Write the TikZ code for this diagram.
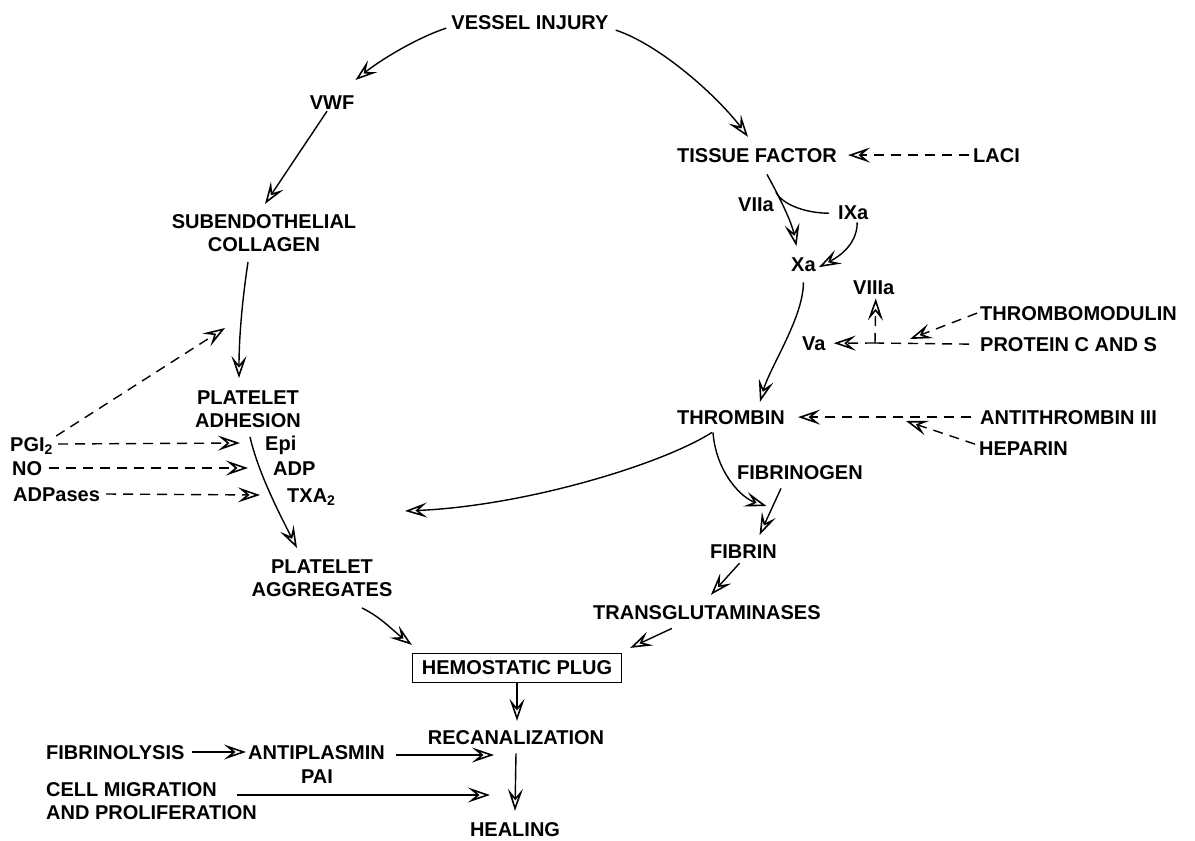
\documentclass[tikz,border=0pt]{standalone}
\usepackage{fontspec}
\setmainfont{Liberation Sans}
\usetikzlibrary{arrows.meta,calc}
\begin{document}
\begin{tikzpicture}[x=1pt,y=-1pt,
  lbl/.style={font=\fontsize{20}{23.5}\selectfont\bfseries, inner sep=1pt, align=center},
  arr/.style={line width=1.4pt, -{Stealth[open,length=22pt,width=15pt,inset=9pt,line width=1.6pt]}},
  dsh/.style={arr, dash pattern=on 10pt off 7pt},
  dline/.style={line width=1.4pt, dash pattern=on 10pt off 7pt},
  plain/.style={line width=1.4pt}]
\path[use as bounding box] (0,0) rectangle (1195,841);

% left branch
\node[lbl, anchor=base] (vi) at (530,29) {VESSEL INJURY};
\node[lbl, anchor=base] (vwf) at (332,109) {VWF};
\node[lbl] (sub) at (264,233) {SUBENDOTHELIAL\\COLLAGEN};
\node[lbl] (pad) at (248,409) {PLATELET\\ADHESION};
\node[lbl, anchor=base west] (pgi) at (9,451) {PGI\textsubscript{2}};
\node[lbl, anchor=base west] (no) at (11,475) {NO};
\node[lbl, anchor=base west] (adpases) at (12,501) {ADPases};
\node[lbl, anchor=base west] (epi) at (264,450) {Epi};
\node[lbl, anchor=base west] (adp) at (272,475) {ADP};
\node[lbl, anchor=base west] (txa) at (286,502) {TXA\textsubscript{2}};
\node[lbl] (pag) at (322,578) {PLATELET\\AGGREGATES};

% bottom
\node[lbl, draw, line width=1.2pt, minimum width=209pt, minimum height=29pt, inner sep=2pt] (plug) at (517,668) {HEMOSTATIC PLUG};
\node[lbl, anchor=base] (recan) at (516,744) {RECANALIZATION};
\node[lbl, anchor=base] (heal) at (515,836) {HEALING};
\node[lbl, anchor=base west] (fib) at (45,759) {FIBRINOLYSIS};
\node[lbl, anchor=base west] (anti) at (247,759) {ANTIPLASMIN};
\node[lbl, anchor=base] (pai) at (317,783) {PAI};
\node[lbl, align=left, anchor=north west] (cell) at (45,781) {CELL MIGRATION\\AND PROLIFERATION};

% right branch
\node[lbl, anchor=base] (tf) at (757,162) {TISSUE FACTOR};
\node[lbl, anchor=base west] (laci) at (972,162) {LACI};
\node[lbl, anchor=base west] (viia) at (737,211) {VIIa};
\node[lbl, anchor=base west] (ixa) at (837,219) {IXa};
\node[lbl, anchor=base west] (xa) at (790,271) {Xa};
\node[lbl, anchor=base west] (viiia) at (852,294) {VIIIa};
\node[lbl, anchor=base west] (va) at (801,350) {Va};
\node[lbl, anchor=base west] (tm) at (979,320) {THROMBOMODULIN};
\node[lbl, anchor=base west] (pcs) at (979,351) {PROTEIN C AND S};
\node[lbl, anchor=base] (thr) at (731,424) {THROMBIN};
\node[lbl, anchor=base west] (at3) at (979,424) {ANTITHROMBIN III};
\node[lbl, anchor=base west] (hep) at (978,455) {HEPARIN};
\node[lbl, anchor=base west] (fgn) at (736,479) {FIBRINOGEN};
\node[lbl, anchor=base west] (fbn) at (709,558) {FIBRIN};
\node[lbl, anchor=base west] (tg) at (592,619) {TRANSGLUTAMINASES};

% free ends
\coordinate (J) at (875,343);
\coordinate (pgiT) at (225,328);
\coordinate (pltT) at (405,511);
\coordinate (hepT) at (906,421);
\coordinate (antT) at (494,755);
\coordinate (cellT) at (490,795);

% connectors, left
\draw[arr] ($(vi.west)+(-4,6)$) .. controls +(-30,10) and +(25,-20) .. ($(vwf.north east)+(0,-14)$);
\draw[arr] ($(vi.east)+(6,8)$) .. controls +(45,15) and +(-30,-40) .. ($(tf.north)+(-9,-10)$);
\draw[arr] ($(vwf.south)+(-5,1)$) -- ($(sub.north)+(1,-9)$);
\draw[arr] ($(sub.south)+(-16,9)$) .. controls +(-6,40) and +(0,-40) .. ($(pad.north)+(-9,-11)$);
\draw[arr] ($(pad.south)+(2,8)$) .. controls +(8,35) and +(-18,-35) .. ($(pag.north)+(-25,-10)$);
\draw[dsh] ($(pgi.base east)+(2,-15)$) -- (pgiT);
\draw[dsh] ($(pgi.base east)+(4,-7)$) -- ($(epi.base west)+(-24,-7)$);
\draw[dsh] ($(no.base east)+(6,-7)$) -- ($(adp.base west)+(-24,-7)$);
\draw[dsh] ($(adpases.base east)+(5,-7)$) -- ($(txa.base west)+(-26,-7)$);
\draw[arr] ($(pag.south)+(40,10)$) .. controls +(20,10) and +(-20,-15) .. ($(plug.north west)+(0,-8)$);

% bottom
\draw[arr] ($(tg.south)+(-35,8)$) -- ($(plug.north east)+(8,-5)$);
\draw[arr] (plug.south) -- ($(recan.north)+(1,-8)$);
\draw[arr] ($(recan.south)+(0,8)$) -- ($(heal.north)+(0,-10)$);
\draw[arr] ($(fib.base east)+(6,-7)$) -- ($(anti.base west)+(-1,-7)$);
\draw[arr] ($(anti.base east)+(10,-4)$) -- (antT);
\draw[arr] ($(cell.north west)+(192,14)$) -- (cellT);

% right
\draw[dsh] ($(laci.west)+(-3,0)$) -- ($(tf.east)+(10,0)$);
\draw[arr] ($(tf.south)+(10,11)$) .. controls +(12,22) and +(-5,-25) .. ($(xa.north)+(-7,-10)$);
\draw[plain] ($(tf.south)+(19,29)$) .. controls +(8,14) and +(-20,0) .. ($(ixa.west)+(-8,1)$);
\draw[arr] ($(ixa.south)+(4,2)$) .. controls +(0,25) and +(15,-8) .. ($(xa.east)+(2,3)$);
\draw[arr] ($(xa.south)+(0,10)$) .. controls +(0,35) and +(10,-35) .. ($(thr.north)+(29,-7)$);
\draw[dsh] (J) -- ($(va.east)+(7,0)$);
\draw[dsh] (J) -- ($(viiia.south)+(2,3)$);
\draw[dline] ($(pcs.west)+(-10,0)$) -- (J);
\draw[dsh] ($(tm.west)+(-2,0)$) -- ($(J)+(35,-4)$);
\draw[dsh] ($(at3.west)+(-8,0)$) -- ($(thr.east)+(12,0)$);
\draw[dsh] ($(hep.west)+(-3,-4)$) -- (hepT);
\draw[arr] ($(thr.south)+(-18,7)$) .. controls +(3,40) and +(-25,-8) .. ($(fbn.north)+(23,-37)$);
\draw[arr] ($(thr.south)+(-19,7)$) .. controls +(-50,32) and +(120,-5) .. (pltT);
\draw[arr] ($(fgn.south)+(-19,8)$) -- ($(fbn.north)+(16,-8)$);
\draw[arr] ($(fbn.south)+(-4,4)$) -- ($(tg.north)+(4,-9)$);
\end{tikzpicture}
\end{document}
